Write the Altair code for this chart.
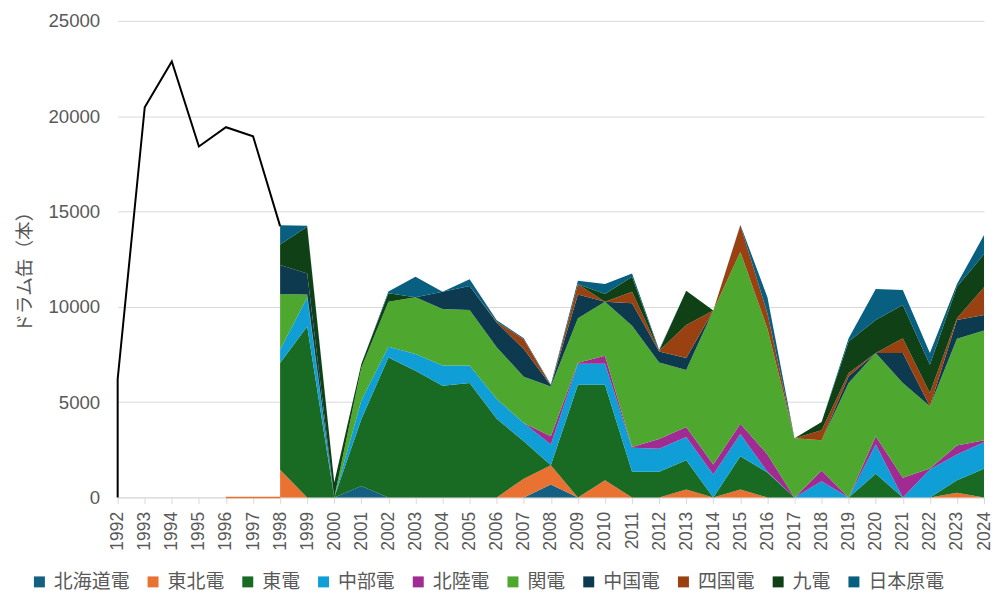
import altair as alt
import pandas as pd

# ---- data ----
series_names = ["北海道電", "東北電", "東電", "中部電", "北陸電", "関電", "中国電", "四国電", "九電", "日本原電"]
series_colors = ["#156082", "#E97132", "#196B24", "#0F9ED5", "#A02B93", "#4EA72E",
                 "#0D3A4E", "#9A4111", "#0F4016", "#095F80"]

years = list(range(1998, 2025))
#            1998  1999  2000  2001  2002  2003  2004  2005  2006  2007  2008  2009  2010  2011  2012  2013  2014  2015  2016  2017  2018  2019  2020  2021  2022  2023  2024
hokkaido = [   0,    0,    0,  600,    0,    0,    0,    0,    0,    0,  680,    0,    0,    0,    0,    0,    0,    0,    0,    0,    0,    0,    0,    0,    0,    0,    0]
tohoku   = [1450,    0,    0,    0,    0,    0,    0,    0,    0,  980, 1010,    0,  900,    0,    0,  420,    0,  420,    0,    0,    0,    0,    0,    0,    0,  250,    0]
tokyo    = [5600, 8960,    0, 3500, 7340, 6650, 5860, 6000, 4120, 1970,    0, 5910, 5010, 1340, 1340, 1530,    0, 1740, 1300,    0,    0,    0, 1240,    0,    0,  650, 1500]
chubu    = [ 700, 1540,    0,  980,  570,  870, 1060,  920, 1040,  950, 1080, 1100, 1100, 1260, 1210, 1220, 1200, 1170,   50,    0,  850,    0, 1530,    0, 1460, 1350, 1390]
hokuriku = [   0,    0,    0,    0,    0,    0,    0,    0,    0,    0,  440,   50,  420,   50,  520,  530,  530,  540,  900,    0,  560,    0,  440, 1030,   50,  470,  110]
kansai   = [2920,  150,    0, 1720, 2360, 2980, 2970, 2910, 2720, 2430, 2610, 2340, 2840, 6350, 4010, 2990, 8070, 9010, 6600, 3100, 1590, 6000, 4360, 4970, 3270, 5600, 5750]
chugoku  = [1520, 1100,    0,    0,    0,    0,  900, 1260, 1290, 1450,   50, 1250,    0, 1180,  570,  620,    0,    0,    0,    0,    0,  350,    0, 1570,    0,  990,  820]
shikoku  = [   0,    0,    0,    0,    0,    0,    0,    0,   50,  520,    0,  530,    0,  610,   40, 1740,    0, 1400,  800,    0,  520,  170,    0,  780,  700,   90, 1450]
kyushu   = [1080, 2450,  780,  200,  440,    0,    0,    0,    0,    0,    0,    0,  400,  780,    0, 1790,    0,    0,    0,    0,  440, 1660, 1740, 1740, 1480, 1650, 1740]
genden   = [1010,   50,    0,    0,   90, 1070,    0,  360,   80,   50,   50,  190,  520,  180,   50,    0,    0,   30,  850,    0,    0,  170, 1620,  790,  610,  140, 1000]

# thin orange 東北電 trace lying on the zero line before the areas start
tohoku_zero_years = [1996, 1997, 1998]
tohoku_zero_values = [0, 0, 0]

line_years = [1992, 1992, 1993, 1994, 1995, 1996, 1997, 1998]
line_values = [0, 6200, 20470, 22870, 18410, 19420, 18950, 14230]

year_ticks = list(range(1992, 2025))
y_ticks = [0, 5000, 10000, 15000, 20000, 25000]

# ---- tables ----
all_series = [hokkaido, tohoku, tokyo, chubu, hokuriku, kansai, chugoku, shikoku, kyushu, genden]
rows = []
for i, (name, vals) in enumerate(zip(series_names, all_series)):
    for y, v in zip(years, vals):
        rows.append({"year": y, "series": name, "value": v, "idx": i})
area_df = pd.DataFrame(rows)

line_df = pd.DataFrame({"year": line_years, "value": line_values,
                        "ord": list(range(len(line_years)))})
zero_df = pd.DataFrame({"year": tohoku_zero_years, "value": tohoku_zero_values})

GRAY = "#595959"
NUM_FONT = "Liberation Sans"
JP_FONT = "Noto Sans CJK JP"

x_axis = alt.Axis(values=year_ticks, format="d", labelAngle=270, labelFlush=False,
                  labelOverlap=False, grid=False, tickColor="#D9D9D9", tickSize=6,
                  domainColor="#D9D9D9", labelColor=GRAY, labelFont=NUM_FONT,
                  labelFontSize=17.5, labelPadding=8, title=None)
y_axis = alt.Axis(values=y_ticks, format="d", grid=True, gridColor="#D9D9D9", domain=False,
                  ticks=False, labelColor=GRAY, labelFont=NUM_FONT, labelFontSize=18.7,
                  labelPadding=18, title="ドラム缶（本）", titleFont=JP_FONT,
                  titleFontSize=18.7, titleFontWeight="normal", titleColor=GRAY,
                  titleAngle=270, titleX=-93, titleY=247, titleAlign="center",
                  titleBaseline="middle")

x_scale = alt.Scale(domain=[1992, 2024], nice=False, zero=False)
y_scale = alt.Scale(domain=[0, 25000], nice=False)

areas = alt.Chart(area_df).transform_stack(
    stack="value", as_=["y0", "y1"], groupby=["year"],
    sort=[alt.SortField("idx", order="ascending")],
).mark_area(interpolate="linear", opacity=1).encode(
    x=alt.X("year:Q", scale=x_scale, axis=x_axis),
    y=alt.Y("y0:Q", scale=y_scale, axis=y_axis),
    y2="y1:Q",
    color=alt.Color("series:N",
                    scale=alt.Scale(domain=series_names, range=series_colors),
                    legend=alt.Legend(title=None, orient="none", legendX=-88, legendY=553,
                                      direction="horizontal", columns=10,
                                      symbolType="square", symbolSize=121,
                                      symbolStrokeWidth=0, labelFont=JP_FONT,
                                      labelFontSize=19, labelColor=GRAY,
                                      labelOffset=5, columnPadding=13)),
)

zero_line = alt.Chart(zero_df).mark_line(color="#E97132", strokeWidth=1.5).encode(
    x=alt.X("year:Q", scale=x_scale, axis=x_axis),
    y=alt.Y("value:Q", scale=y_scale, axis=y_axis),
)

line = alt.Chart(line_df).mark_line(color="black", strokeWidth=2).encode(
    x=alt.X("year:Q", scale=x_scale, axis=x_axis),
    y=alt.Y("value:Q", scale=y_scale, axis=y_axis),
    order=alt.Order("ord:Q"),
)

chart = alt.layer(areas, zero_line, line).properties(
    width=869, height=478,
    padding={"left": 110, "top": 12, "right": 10, "bottom": 98},
    autosize=alt.AutoSizeParams(type="none"),
    background="white",
).configure_view(stroke=None)

chart.save("out.html", embed_options={"renderer": "svg", "actions": False})
